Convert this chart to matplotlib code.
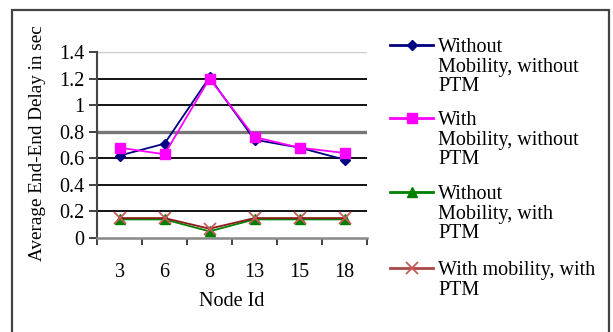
import matplotlib
matplotlib.use("Agg")
import matplotlib.pyplot as plt
from matplotlib.lines import Line2D
from matplotlib.patches import Rectangle
import numpy as np

plt.rcParams['font.family'] = ['Liberation Serif', 'DejaVu Serif']

node_ids = ["3", "6", "8", "13", "15", "18"]
no_mob_no_ptm = [0.62, 0.71, 1.21, 0.74, 0.68, 0.59]
mob_no_ptm = [0.68, 0.63, 1.20, 0.76, 0.68, 0.64]
no_mob_ptm = [0.14, 0.14, 0.05, 0.14, 0.14, 0.14]
mob_ptm = [0.15, 0.15, 0.07, 0.15, 0.15, 0.15]

labels = ["Without\nMobility, without\nPTM",
          "With\nMobility, without\nPTM",
          "Without\nMobility, with\nPTM",
          "With mobility, with\nPTM"]

W, H = 613, 332
fig = plt.figure(figsize=(W / 100, H / 100), dpi=100)
fs = 14.5

# outer frame
fig.add_artist(Rectangle((12 / W, -0.2), (609 - 12) / W, 1.2 - 10 / H,
                         transform=fig.transFigure, fill=False,
                         edgecolor='#444444', linewidth=1.6))

ax = fig.add_axes([97 / W, 1 - 238 / H, (367 - 97) / W, (238 - 52) / H])
x = np.arange(len(node_ids))

series = [
    (no_mob_no_ptm, dict(color='#000080', marker='D', markersize=5.5, mfc='#000080', mec='#000080')),
    (mob_no_ptm, dict(color='#FF00FF', marker='s', markersize=7, mfc='#FF00FF', mec='#FF00FF')),
    (no_mob_ptm, dict(color='#008000', marker='^', markersize=6.5, mfc='#008000', mec='#008000')),
    (mob_ptm, dict(color='#8B1A1A', marker='x', markersize=8, mfc='#C85A5A', mec='#C85A5A', mew=1.3)),
]
for vals, st in series:
    ax.plot(x, vals, linewidth=1.3, zorder=3, **st)

ax.set_xlim(-0.5, len(node_ids) - 0.5)
ax.set_ylim(0, 1.4)
yt = np.round(np.arange(0, 1.41, 0.2), 1)
ax.set_yticks(yt)
ax.set_yticklabels([("%g" % v) for v in yt], fontsize=fs)
for v in yt:
    if v == 0:
        continue
    if abs(v - 0.8) < 1e-6:
        ax.axhline(v, color='#777777', linewidth=2.4, zorder=1)
    elif abs(v - 1.4) < 1e-6:
        ax.axhline(v, color='#cccccc', linewidth=1.0, zorder=1)
    else:
        ax.axhline(v, color='black', linewidth=1.3, zorder=1)

ax.set_xticks(x)
ax.set_xticklabels(node_ids, fontsize=fs)
ax.set_xticks(np.arange(-0.5, len(node_ids)), minor=True)
ax.tick_params(axis='x', which='major', length=0, pad=18)
ax.tick_params(axis='x', which='minor', length=5, width=1.3, direction='out', color='#333333')
ax.tick_params(axis='y', length=6, width=1.3, direction='out', color='#333333', pad=3)

for s in ['top', 'right']:
    ax.spines[s].set_visible(False)
ax.spines['left'].set_color('#444444')
ax.spines['left'].set_linewidth(1.5)
ax.spines['bottom'].set_color('#888888')
ax.spines['bottom'].set_linewidth(1.8)

ax.set_xlabel("Node Id", fontsize=fs, labelpad=7)
ax.set_ylabel("Average End-End Delay in sec", fontsize=13.8)
ax.yaxis.set_label_coords(-0.19, 0.51)

# legend
leg_y = [45, 118, 192, 268]
for (vals, st), lab, yy in zip(series, labels, leg_y):
    lc = '#A84848' if st['marker'] == 'x' else st['color']
    ln = Line2D([390 / W, 433 / W], [1 - yy / H, 1 - yy / H], transform=fig.transFigure,
                linewidth=2.0, color=lc)
    fig.add_artist(ln)
    mk = Line2D([412 / W], [1 - yy / H], transform=fig.transFigure, linestyle='none', **st)
    fig.add_artist(mk)
    fig.text(438 / W, 1 - (yy - 7) / H, lab, fontsize=fs, va='top', ha='left',
             linespacing=1.05)

fig.savefig("out.png", dpi=100)
